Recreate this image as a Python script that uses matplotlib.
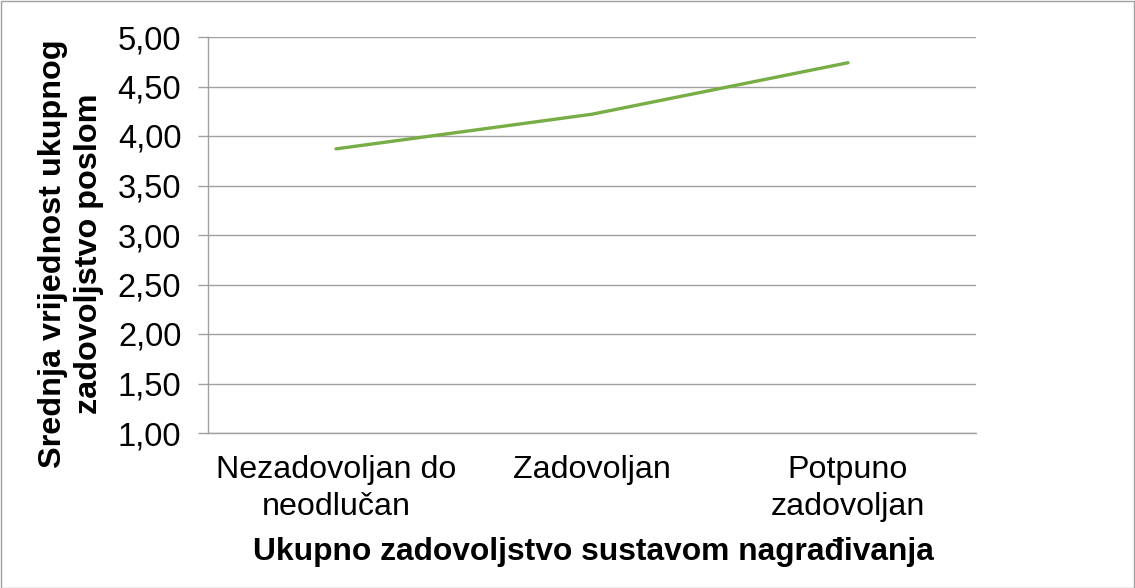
import matplotlib
matplotlib.use("Agg")
import matplotlib.pyplot as plt
from matplotlib.patches import Rectangle

categories = ["Nezadovoljan do\nneodlučan", "Zadovoljan", "Potpuno\nzadovoljan"]
values = [3.87, 4.22, 4.74]
yticks = [1.0, 1.5, 2.0, 2.5, 3.0, 3.5, 4.0, 4.5, 5.0]
ytick_labels = ["1,00", "1,50", "2,00", "2,50", "3,00", "3,50", "4,00", "4,50", "5,00"]
xlabel = "Ukupno zadovoljstvo sustavom nagrađivanja"
ylabel = "Srednja vrijednost ukupnog\nzadovoljstvo poslom"

plt.rcParams['font.family'] = ['Liberation Sans', 'DejaVu Sans']

W, H = 1135, 588
fig = plt.figure(figsize=(W/100, H/100), dpi=100)
ax = fig.add_axes([208/W, 1-433/H, (976-208)/W, (433-37)/H])

x = list(range(len(categories)))
ax.plot(x, values, color="#77AD45", linewidth=2.4, solid_capstyle="round")

ax.set_xlim(-0.5, len(categories)-0.5)
ax.set_ylim(1.0, 5.0)
ax.set_yticks(yticks)
ax.set_yticklabels(ytick_labels, fontsize=23.5)
ax.set_xticks(x)
ax.set_xticklabels(categories, fontsize=23.2, linespacing=1.3)
ax.tick_params(axis='x', length=0, pad=16)
ax.tick_params(axis='y', length=7.2, color="#A0A0A0", width=1, pad=12)

ax.grid(axis='y', color="#A0A0A0", linewidth=1)
ax.set_axisbelow(True)
for s in ["top", "right"]:
    ax.spines[s].set_visible(False)
for s in ["left", "bottom"]:
    ax.spines[s].set_color("#A0A0A0")
    ax.spines[s].set_linewidth(1)

fig.text(593/W, 1-552/H, xlabel, fontsize=22.9, fontweight="bold", ha="center", va="center")
fig.text(71/W, 1-254/H, ylabel, fontsize=23.3, fontweight="bold", ha="center", va="center",
         rotation=90, linespacing=1.25, multialignment="center")

fig.patches.append(Rectangle((0.5/W, 0.5/H), 1-1.5/W, 1-1.5/H, transform=fig.transFigure,
                             fill=False, edgecolor="#A0A0A0", linewidth=1))

fig.savefig("out.png", dpi=100)
